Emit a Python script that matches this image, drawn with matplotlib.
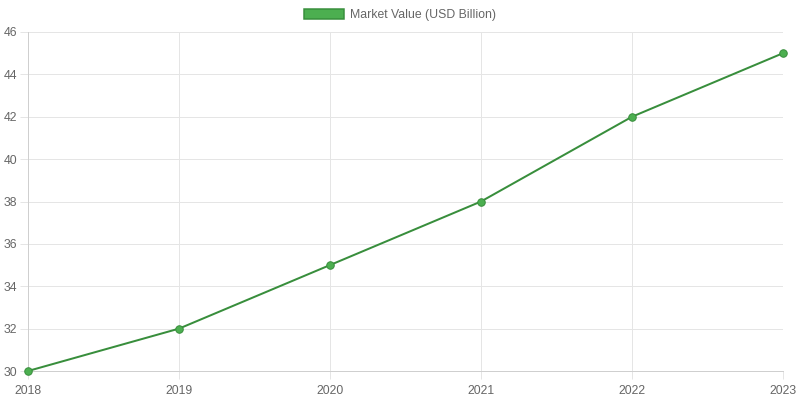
import matplotlib
matplotlib.use("Agg")
import matplotlib.pyplot as plt
from matplotlib.patches import Patch

years = ["2018", "2019", "2020", "2021", "2022", "2023"]
values = [30, 32, 35, 38, 42, 45]
y_ticks = [30, 32, 34, 36, 38, 40, 42, 44, 46]
series_label = "Market Value (USD Billion)"

plt.rcParams['font.family'] = ['Liberation Sans', 'DejaVu Sans']

PX = 0.72  # points per pixel at dpi 100

fig = plt.figure(figsize=(8, 4), dpi=100)
ax = fig.add_axes([28/800, 1-371/400, (783-28)/800, (371-32)/400])

x = list(range(len(years)))
ax.plot(x, values, color="#388e3c", linewidth=2*PX, zorder=3, clip_on=False,
        marker="o", markersize=7.5*PX, markerfacecolor="#4caf50", markeredgecolor="#388e3c",
        markeredgewidth=1*PX)

ax.set_xlim(0, len(years)-1)
ax.set_ylim(30, 46)
ax.set_xticks(x)
ax.set_xticklabels(years)
ax.set_yticks(y_ticks)
ax.grid(True, color="#e5e5e5", linewidth=1*PX)
ax.set_axisbelow(True)
for s in ["top", "right"]:
    ax.spines[s].set_visible(False)
for s in ["left", "bottom"]:
    ax.spines[s].set_color("#cfcfcf")
    ax.spines[s].set_linewidth(1*PX)
ax.tick_params(axis="both", length=8*PX, width=1*PX, color="#e5e5e5", labelcolor="#666666",
               labelsize=8.8)
ax.tick_params(axis="y", pad=3*PX)
ax.tick_params(axis="x", pad=5.5*PX)

handle = Patch(facecolor="#4caf50", edgecolor="#388e3c", linewidth=1.5*PX)
fig.legend([handle], [series_label], loc="upper center", bbox_to_anchor=(0.5, 1.005),
           frameon=False, fontsize=8.8, labelcolor="#666666",
           handlelength=3.3, handleheight=0.9, handletextpad=0.5)

fig.savefig("out.png", dpi=100)
